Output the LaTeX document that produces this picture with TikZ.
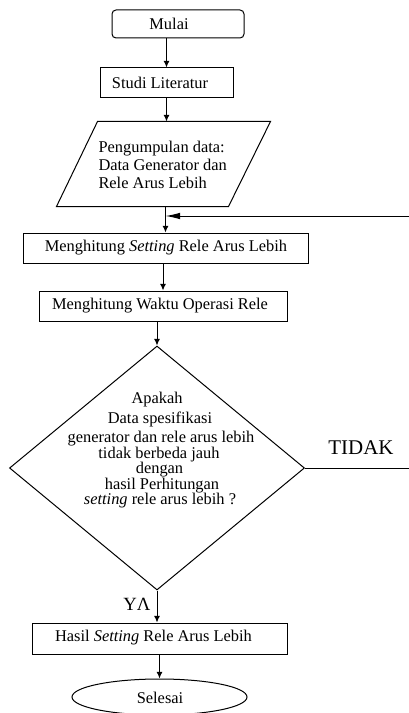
\documentclass[tikz,border=0pt]{standalone}
\usepackage{fontspec}
\setmainfont{Liberation Serif}
\usetikzlibrary{shapes.geometric,arrows.meta,calc}
\begin{document}
\begin{tikzpicture}[x=0.75pt,y=-0.75pt,
  line width=0.75pt,
  shapebox/.style={draw,rectangle,inner sep=0pt,minimum height=22.5pt},
  txt/.style={font=\fontsize{12.3}{14}\selectfont,inner sep=0pt},
  dline/.style={txt,anchor=base},
  arr/.style={-{Latex[length=5pt,width=4.5pt]}},
  longarr/.style={-{Latex[length=11pt,width=5pt]}},
]
\useasboundingbox (0,0) rectangle (409,713);
% shapes
\node[shapebox,rounded corners=3pt,minimum width=99pt,minimum height=21pt] (mulai) at (178,24) {};
\node[txt] (tmulai) at (169,24) {Mulai};
\node[shapebox,minimum width=99.75pt] (studi) at (166.5,83) {};
\node[txt] (tstudi) at (160,83) {Studi Literatur};
\node[inner sep=0pt,minimum width=159.75pt,minimum height=63pt] (data) at (163.5,164) {};
\draw ($(data.north west)+(41,0)$) -- (data.north east) -- ($(data.south east)+(-42,0)$) -- (data.south west) -- cycle;
\node[txt,anchor=base west] (tdata1) at (98,152.5) {Pengumpulan data:};
\node[txt,anchor=base west] (tdata2) at (98,170.5) {Data Generator dan};
\node[txt,anchor=base west] (tdata3) at (98,188) {Rele Arus Lebih};
\node[shapebox,minimum width=213.75pt] (set) at (165.5,248) {};
\node[txt] (tset) at (166,248) {Menghitung \textit{Setting} Rele Arus Lebih};
\node[shapebox,minimum width=186pt] (waktu) at (163,306) {};
\node[txt] (twaktu) at (160,306) {Menghitung Waktu Operasi Rele};
\node[draw,diamond,inner sep=0pt,minimum width=221.25pt,minimum height=183pt] (dia) at (157,468) {};
\node[dline] (d1) at (157,403) {Apakah};
\node[dline] (d2) at (160,423) {Data spesifikasi};
\node[dline] (d3) at (161,442) {generator dan rele arus lebih};
\node[dline] (d4) at (159,458) {tidak berbeda jauh};
\node[dline] (d5) at (159.5,473) {dengan};
\node[dline] (d6) at (162,489) {hasil Perhitungan};
\node[dline] (d7) at (160,504) {\textit{setting} rele arus lebih ?};
\node[txt,font=\fontsize{15.7}{18}\selectfont] (tidak) at (361,448) {TIDAK};
\node[txt,font=\fontsize{14}{16}\selectfont] (ya) at (137,604) {YΛ};
\node[shapebox,minimum width=191.25pt,minimum height=23.25pt] (hasil) at (159.5,638.5) {};
\node[txt] (thasil) at (153.5,638) {Hasil \textit{Setting} Rele Arus Lebih};
\node[draw,ellipse,inner sep=0pt,minimum width=131.25pt,minimum height=27pt] (sel) at (159.5,697) {};
\node[txt] (tsel) at (160,698) {Selesai};
\coordinate (fb) at (409,216);
\coordinate (tend) at (409,468);
% connectors
\draw[arr] (mulai.south -| studi.north) -- (studi.north);
\draw[arr] (studi.south) -- (studi.south |- data.north);
\draw[arr] (data.south -| set.north) -- (set.north);
\draw[longarr] (fb) -- (fb -| set.north);
\draw[arr] (set.south -| waktu.north) -- (waktu.north);
\draw[arr] (waktu.south -| dia.north) -- (dia.north);
\draw (dia.east) -- (tend);
\draw[arr] (dia.south) -- (dia.south |- hasil.north);
\draw[arr] (hasil.south -| sel.north) -- (sel.north);
\end{tikzpicture}
\end{document}
